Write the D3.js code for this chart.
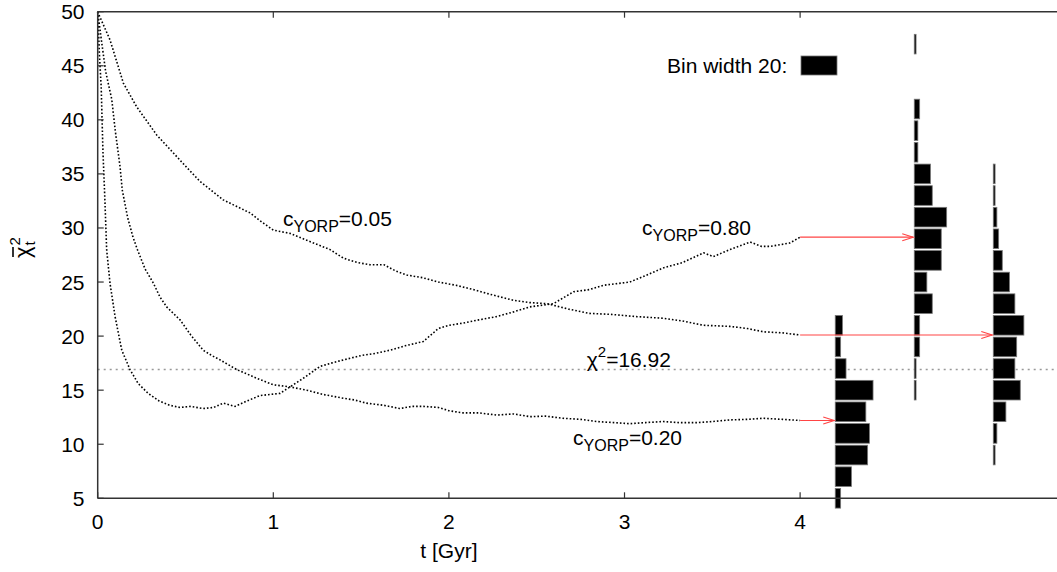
<!DOCTYPE html>
<html><head><meta charset="utf-8">
<script src="https://cdn.jsdelivr.net/npm/d3@7"></script>
<style>body{margin:0;background:#fff}svg{display:block;font-family:"Liberation Sans",Arial,Helvetica,sans-serif}</style>
</head><body><svg id="c" width="1057" height="572"></svg>
<script>
// ---- data ----
const xTicks = [0, 1, 2, 3, 4];
const yTicks = [5, 10, 15, 20, 25, 30, 35, 40, 45, 50];
const chi2Ref = 16.92;
const curve005 = [[0,50],[0.013,49.5],[0.07,47.4],[0.146,43.4],[0.222,41.2],[0.336,38.6],[0.45,36.6],[0.507,35.6],[0.583,34.3],[0.715,32.6],[0.79,32.0],[0.867,31.4],[0.93,30.6],[1.0,29.8],[1.095,29.5],[1.2,28.8],[1.323,28.0],[1.40,27.2],[1.48,26.8],[1.55,26.6],[1.63,26.6],[1.7,26.0],[1.76,25.65],[1.85,25.4],[1.94,25.0],[2.04,24.7],[2.14,24.3],[2.25,23.8],[2.37,23.3],[2.46,23.1],[2.56,23.0],[2.68,22.5],[2.80,22.1],[2.93,22.0],[3.07,21.8],[3.22,21.65],[3.33,21.4],[3.45,21.0],[3.6,20.9],[3.7,20.7],[3.79,20.4],[3.9,20.3],[4.0,20.1]];
const curve020 = [[0,50],[0.02,47.5],[0.045,44.5],[0.08,41.9],[0.10,39.0],[0.127,35.7],[0.14,33.5],[0.17,31],[0.20,29.2],[0.226,28],[0.27,26.2],[0.317,24.9],[0.355,23.6],[0.393,22.7],[0.469,21.5],[0.53,20.1],[0.60,18.7],[0.65,18.2],[0.697,17.8],[0.792,16.9],[0.85,16.5],[0.905,16.1],[1.0,15.5],[1.095,15.3],[1.19,15.0],[1.285,14.6],[1.40,14.25],[1.46,14.1],[1.53,13.8],[1.63,13.6],[1.72,13.3],[1.79,13.5],[1.854,13.5],[1.94,13.4],[2.0,13.1],[2.08,12.9],[2.17,12.9],[2.27,12.7],[2.37,12.8],[2.46,12.55],[2.55,12.6],[2.65,12.4],[2.75,12.3],[2.84,12.1],[2.94,12.0],[3.03,11.9],[3.12,12.0],[3.22,12.1],[3.31,12.0],[3.41,12.0],[3.5,12.1],[3.6,12.25],[3.7,12.3],[3.79,12.4],[3.9,12.3],[4.0,12.2]];
const curve080 = [[0,50],[0.01,46],[0.02,43],[0.03,37],[0.04,33],[0.051,28],[0.07,24.9],[0.099,21.8],[0.137,18.7],[0.184,16.9],[0.231,15.6],[0.288,14.7],[0.35,14.0],[0.41,13.6],[0.469,13.4],[0.53,13.5],[0.6,13.3],[0.66,13.4],[0.715,13.8],[0.782,13.5],[0.85,14.0],[0.924,14.5],[0.98,14.6],[1.038,14.7],[1.095,15.3],[1.18,16.2],[1.266,17.2],[1.33,17.5],[1.40,17.8],[1.5,18.2],[1.58,18.4],[1.665,18.7],[1.75,19.1],[1.854,19.5],[1.94,20.7],[2.0,21.0],[2.08,21.2],[2.17,21.5],[2.27,21.8],[2.36,22.2],[2.46,22.7],[2.595,23.0],[2.71,24.1],[2.8,24.3],[2.88,24.7],[3.03,25.0],[3.12,25.6],[3.22,26.3],[3.33,26.8],[3.45,27.7],[3.506,27.35],[3.6,28.0],[3.715,28.7],[3.78,28.3],[3.83,28.3],[3.94,28.6],[4.0,29.15]];
// histograms: lower bin edge, count (bin size 2)
const binSize = 2;
const hist020Bins = [4,6,8,10,12,14,16,18,20];
const hist020Counts = [3,9,18,19,17,21,6,3,4];
const hist080Bins = [14,16,18,20,22,24,26,28,30,32,34,36,38,40,46];
const hist080Counts = [1,1,3,3,10,7,15,15,18,10,9,2,2,3,1];
const hist005Bins = [8,10,12,14,16,18,20,22,24,26,28,30,32,34];
const hist005Counts = [1,2,7,15,12,13,17,12,9,5,3,2,1,1];
const histBaseT = [4.2, 4.65, 5.1];
const legendCount = 20;

// ---- scales ----
const svg = d3.select("#c");
const x = d3.scaleLinear().domain([0, 5.46]).range([97.7, 1056.5]);
const y = d3.scaleLinear().domain([5, 50]).range([498.3, 11.7]);
const cw = d3.scaleLinear().domain([0, 20]).range([0, 36]);
const FONT = "Liberation Sans, Arial, Helvetica, sans-serif";
const FS = 21, SUB = 16;

// chi2 reference line
svg.append("line").attr("x1", x(0)).attr("x2", 1057).attr("y1", y(chi2Ref)).attr("y2", y(chi2Ref))
  .attr("stroke", "#999").attr("stroke-width", 1.5).attr("stroke-dasharray", "2,4");

// curves
const line = d3.line().x(d => x(d[0])).y(d => y(d[1])).curve(d3.curveLinear);
[curve005, curve020, curve080].forEach(c => {
  svg.append("path").attr("d", line(c)).attr("fill", "none").attr("stroke", "#000")
    .attr("stroke-width", 1.6).attr("stroke-dasharray", "1.6,2");
});

// histograms
function hist(bins, counts, t) {
  svg.append("g").selectAll("rect").data(bins.map((b, i) => [b, counts[i]])).join("rect")
    .attr("x", x(t)).attr("width", d => cw(d[1]))
    .attr("y", d => y(d[0] + binSize) + 1).attr("height", d => y(d[0]) - y(d[0] + binSize) - 2)
    .attr("fill", "#000").attr("stroke", "#777").attr("stroke-width", 0.8);
}
hist(hist020Bins, hist020Counts, histBaseT[0]);
hist(hist080Bins, hist080Counts, histBaseT[1]);
hist(hist005Bins, hist005Counts, histBaseT[2]);

// arrows (from curve ends to histograms)
function arrow(v, tEnd) {
  const x1 = x(4.0), x2 = x(tEnd) - 1, yy = y(v);
  const g = svg.append("g").attr("stroke", "#f44").attr("stroke-width", 1.1).attr("fill", "none");
  g.append("line").attr("x1", x1).attr("x2", x2).attr("y1", yy).attr("y2", yy);
  g.append("path").attr("d", `M${x2 - 11},${yy - 3.5}L${x2},${yy}L${x2 - 11},${yy + 3.5}`);
}
arrow(curve020[curve020.length - 1][1], histBaseT[0]);
arrow(curve080[curve080.length - 1][1], histBaseT[1]);
arrow(curve005[curve005.length - 1][1], histBaseT[2]);

// frame
const fr = svg.append("g").attr("stroke", "#333").attr("stroke-width", 1.5);
fr.append("line").attr("x1", x(0)).attr("x2", 1057).attr("y1", y(5)).attr("y2", y(5));
fr.append("line").attr("x1", x(0)).attr("x2", 1057).attr("y1", y(50)).attr("y2", y(50));
fr.append("line").attr("x1", x(0)).attr("x2", x(0)).attr("y1", y(5)).attr("y2", y(50));
// ticks (inward, mirrored on top)
const tk = svg.append("g").attr("stroke", "#333").attr("stroke-width", 1.2);
xTicks.forEach(t => {
  tk.append("line").attr("x1", x(t)).attr("x2", x(t)).attr("y1", y(5)).attr("y2", y(5) - 6);
  tk.append("line").attr("x1", x(t)).attr("x2", x(t)).attr("y1", y(50)).attr("y2", y(50) + 6);
});
yTicks.forEach(v => {
  tk.append("line").attr("x1", x(0)).attr("x2", x(0) + 6).attr("y1", y(v)).attr("y2", y(v));
});
// tick labels
svg.append("g").selectAll("text").data(xTicks).join("text")
  .attr("x", d => x(d)).attr("y", 528.5).attr("text-anchor", "middle")
  .attr("font-size", FS).attr("font-family", FONT).text(d => d);
svg.append("g").selectAll("text").data(yTicks).join("text")
  .attr("x", 84.5).attr("y", d => y(d) + 7.5).attr("text-anchor", "end")
  .attr("font-size", FS).attr("font-family", FONT).text(d => d);

// axis titles
svg.append("text").attr("x", x(2)).attr("y", 558).attr("text-anchor", "middle")
  .attr("font-size", FS).attr("font-family", FONT).text("t [Gyr]");
const ylg = svg.append("g").attr("transform", "translate(30,258) rotate(-90)");
const yl = ylg.append("text").attr("font-size", 22).attr("font-family", FONT);
yl.append("tspan").text("χ");
yl.append("tspan").attr("font-size", 15).attr("dx", 1).attr("dy", -10).text("2");
yl.append("tspan").attr("font-size", 15).attr("dx", -8.5).attr("dy", 15).text("t");
ylg.append("line").attr("x1", 1).attr("x2", 11).attr("y1", -17).attr("y2", -17).attr("stroke", "#000").attr("stroke-width", 1.6);

// curve labels
function cLabel(t, v, val) {
  const tx = svg.append("text").attr("x", x(t)).attr("y", y(v)).attr("font-size", FS).attr("font-family", FONT);
  tx.append("tspan").text("c");
  tx.append("tspan").attr("font-size", SUB).attr("dy", 6).text("YORP");
  tx.append("tspan").attr("dy", -6).text("=" + val);
}
cLabel(1.055, 30.2, "0.05");
cLabel(3.10, 29.35, "0.80");
cLabel(2.707, 9.93, "0.20");
const chl = svg.append("text").attr("x", x(2.785)).attr("y", y(17.17)).attr("font-size", FS).attr("font-family", FONT);
chl.append("tspan").text("χ");
chl.append("tspan").attr("font-size", 15).attr("dy", -10).text("2");
chl.append("tspan").attr("dy", 10).text("=" + chi2Ref.toFixed(2));

// legend
svg.append("text").attr("x", 667).attr("y", 73).attr("font-size", FS).attr("font-family", FONT).text("Bin width " + legendCount + ":");
svg.append("rect").attr("x", 801).attr("y", 56).attr("width", cw(legendCount)).attr("height", 19)
  .attr("fill", "#000").attr("stroke", "#777").attr("stroke-width", 0.8);
</script></body></html>
